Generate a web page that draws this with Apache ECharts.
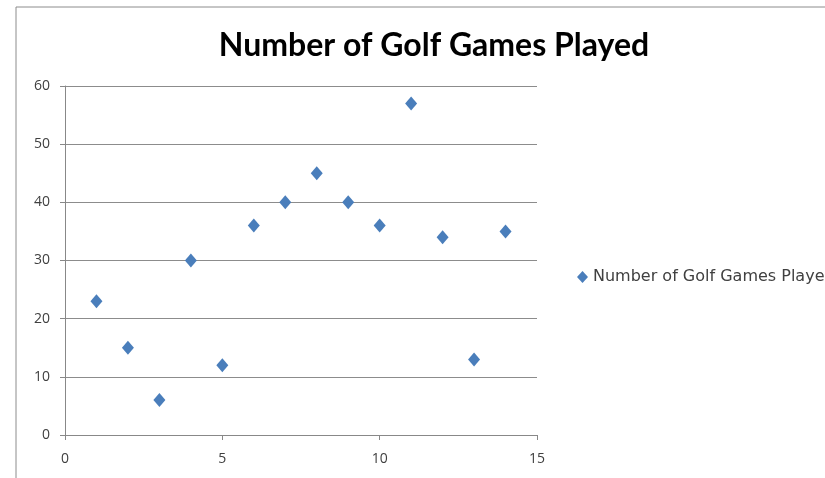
<!DOCTYPE html>
<html><head><meta charset="utf-8">
<script src="https://cdn.jsdelivr.net/npm/echarts@6/dist/echarts.min.js"></script>
<style>html,body{margin:0;padding:0;background:#fff}#c{width:825px;height:478px}</style>
</head><body><div id="c"></div>
<script>
const title = "Number of Golf Games Played";
const seriesName = "Number of Golf Games Played";
const xValues = [1,2,3,4,5,6,7,8,9,10,11,12,13,14];
const yValues = [23,15,6,30,12,36,40,45,40,36,57,34,13,35];

const chart = echarts.init(document.getElementById('c'), null, {renderer:'canvas'});
const font = 'Lato, "Open Sans", sans-serif';
const tickFont = '"Open Sans", Lato, sans-serif';
chart.setOption({
  animation:false,
  backgroundColor:'#fff',
  title:{text:title,left:429,textAlign:'center',top:25,
    textStyle:{fontFamily:font,fontWeight:'bold',fontSize:32,color:'#000'}},
  graphic:[{type:'rect',shape:{x:16,y:7,width:900,height:600},style:{fill:'none',stroke:'#8c8c8c',lineWidth:1}}],
  grid:{left:65,right:288,top:86,bottom:43},
  legend:{left:572,top:264,icon:'diamond',itemWidth:11,itemHeight:12,itemGap:4,
    textStyle:{fontFamily:'"DejaVu Sans", sans-serif',fontSize:16,color:'#404040'},data:[seriesName]},
  xAxis:{type:'value',min:0,max:15,interval:5,
    axisLine:{show:true,onZero:false,lineStyle:{color:'#888'}},
    axisTick:{show:true,length:5,lineStyle:{color:'#888'}},
    axisLabel:{fontFamily:tickFont,fontSize:14,color:'#404040',margin:17},
    splitLine:{show:false}},
  yAxis:{type:'value',min:0,max:60,interval:10,
    axisLine:{show:true,lineStyle:{color:'#888'}},
    axisTick:{show:true,length:5,lineStyle:{color:'#888'}},
    axisLabel:{fontFamily:tickFont,fontSize:14,color:'#404040',margin:15},
    splitLine:{show:true,lineStyle:{color:'#8c8c8c',width:1}}},
  series:[{name:seriesName,type:'scatter',symbol:'diamond',symbolSize:[12,14],
    itemStyle:{color:'#4a7ebb',opacity:1},
    data:xValues.map((x,i)=>[x,yValues[i]])}]
});
</script></body></html>
